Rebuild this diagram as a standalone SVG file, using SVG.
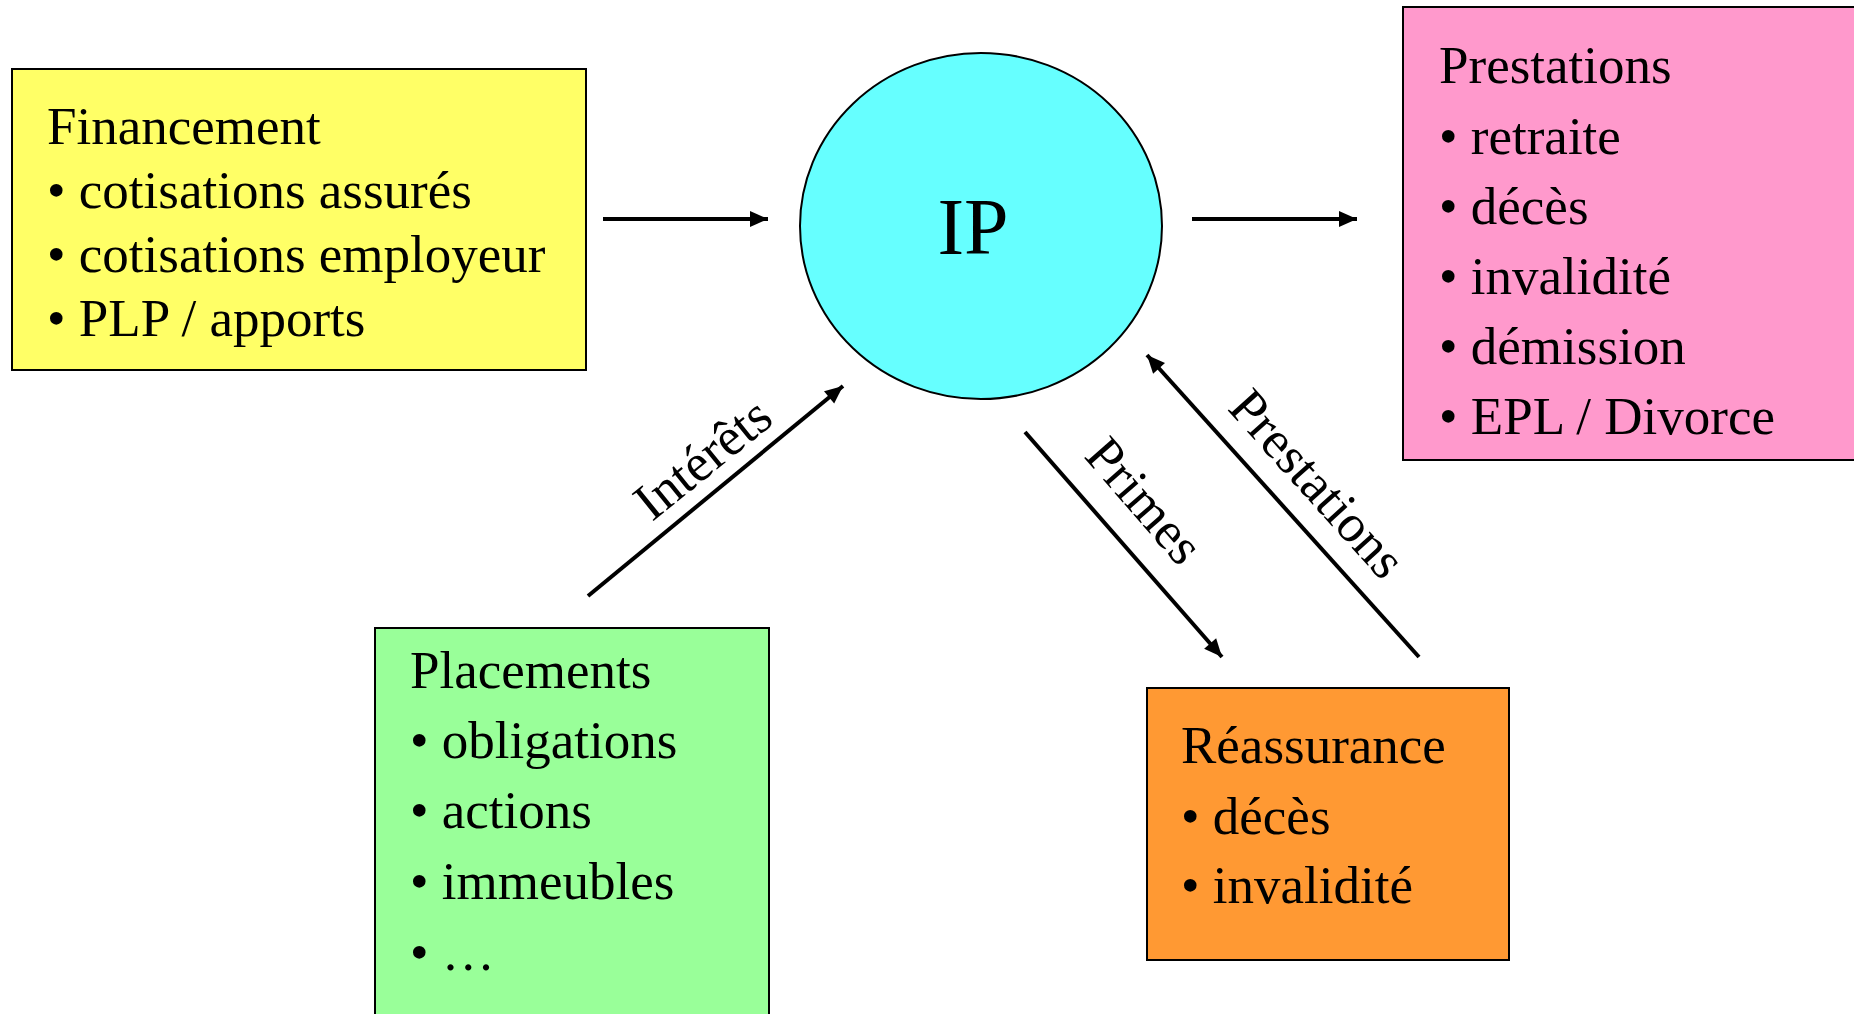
<svg xmlns="http://www.w3.org/2000/svg" width="1854" height="1014" viewBox="0 0 1854 1014">
  <defs>
    <marker id="arrow" markerUnits="userSpaceOnUse" markerWidth="22" markerHeight="18" refX="18" refY="8" orient="auto" overflow="visible">
      <path d="M0,0 L18,8 L0,16 z" fill="#000"/>
    </marker>
    <style>
      text { font-family: "Liberation Serif", "Times New Roman", serif; fill: #000; }
      .box { stroke: #000; stroke-width: 2; }
      .item { font-size: 53px; }
      .lbl { font-size: 53px; text-anchor: middle; }
      .flow { stroke: #000; stroke-width: 4; fill: none; marker-end: url(#arrow); }
    </style>
  </defs>
  <rect width="1854" height="1014" fill="#fff"/>

  <!-- Financement -->
  <g id="financement">
    <rect class="box" x="12" y="69" width="574" height="301" fill="#FFFF66"/>
    <text class="item" x="47" y="144">Financement</text>
    <text class="item" x="47" y="208">• cotisations assurés</text>
    <text class="item" x="47" y="272">• cotisations employeur</text>
    <text class="item" x="47" y="336">• PLP / apports</text>
  </g>

  <!-- IP -->
  <g id="ip">
    <ellipse cx="981" cy="226" rx="181" ry="173" fill="#66FFFF" stroke="#000" stroke-width="2"/>
    <text x="973" y="254" font-size="80" text-anchor="middle">IP</text>
  </g>

  <!-- Prestations -->
  <g id="prestations">
    <rect class="box" x="1403" y="7" width="460" height="453" fill="#FF99CC"/>
    <text class="item" x="1439" y="83">Prestations</text>
    <text class="item" x="1439" y="154">• retraite</text>
    <text class="item" x="1439" y="224">• décès</text>
    <text class="item" x="1439" y="294">• invalidité</text>
    <text class="item" x="1439" y="364">• démission</text>
    <text class="item" x="1439" y="434">• EPL / Divorce</text>
  </g>

  <!-- Placements -->
  <g id="placements">
    <rect class="box" x="375" y="628" width="394" height="400" fill="#99FF99"/>
    <text class="item" x="410" y="688">Placements</text>
    <text class="item" x="410" y="758">• obligations</text>
    <text class="item" x="410" y="828">• actions</text>
    <text class="item" x="410" y="899">• immeubles</text>
    <text class="item" x="410" y="970">• …</text>
  </g>

  <!-- Réassurance -->
  <g id="reassurance">
    <rect class="box" x="1147" y="688" width="362" height="272" fill="#FF9933"/>
    <text class="item" x="1181" y="763">Réassurance</text>
    <text class="item" x="1181" y="834">• décès</text>
    <text class="item" x="1181" y="903">• invalidité</text>
  </g>

  <!-- Connectors -->
  <g id="connectors">
    <line class="flow" x1="603" y1="219" x2="768" y2="219"/>
    <line class="flow" x1="1192" y1="219" x2="1357" y2="219"/>
    <line class="flow" x1="588" y1="596" x2="843" y2="386"/>
    <line class="flow" x1="1025" y1="432" x2="1222" y2="657"/>
    <line class="flow" x1="1419" y1="657" x2="1147" y2="355"/>
    <text class="lbl" transform="translate(703,459) rotate(-39)" y="17">Intérêts</text>
    <text class="lbl" transform="translate(1144,501) rotate(49)" y="17">Primes</text>
    <text class="lbl" transform="translate(1317,484) rotate(48)" y="17">Prestations</text>
  </g>
</svg>
